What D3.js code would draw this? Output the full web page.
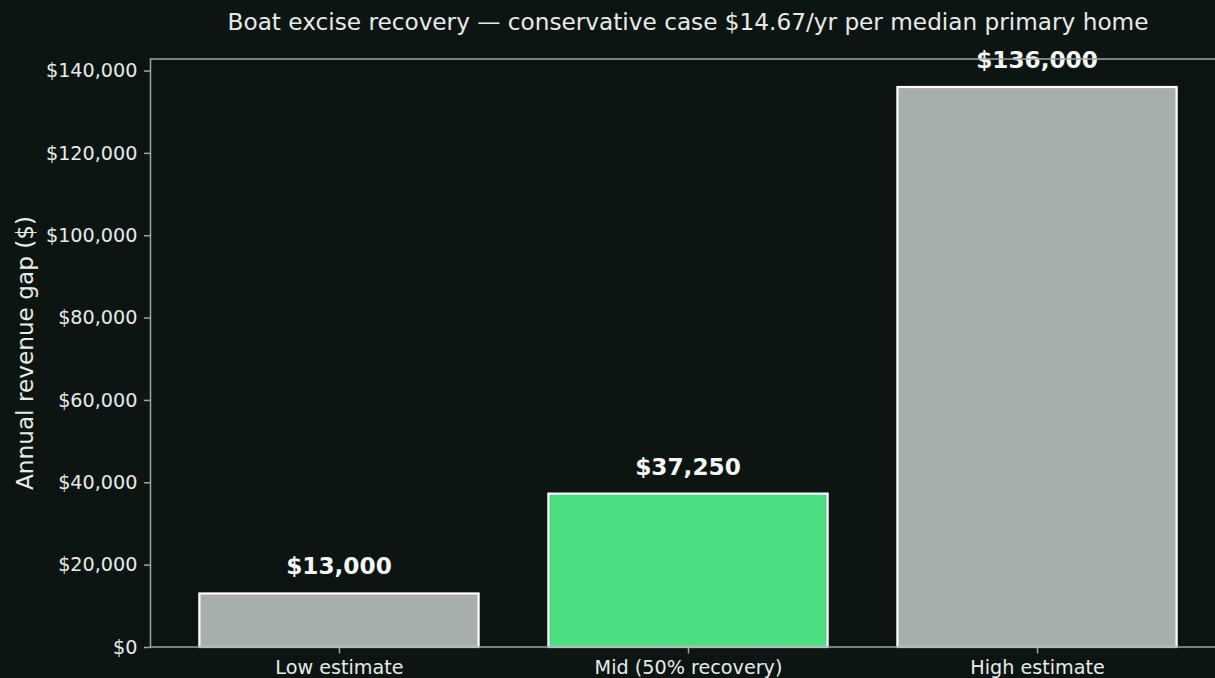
<!DOCTYPE html>
<html>
<head>
<meta charset="utf-8">
<script src="https://cdn.jsdelivr.net/npm/d3@7"></script>
<style>
  html, body { margin: 0; padding: 0; background: #0d1513; overflow: hidden; }
  svg { display: block; font-family: "DejaVu Sans", sans-serif; }
</style>
</head>
<body>
<svg id="chart" width="1215" height="678"></svg>
<script>
// Revenue gap scenarios
const categories = ["Low estimate", "Mid (50% recovery)", "High estimate"];
const values = [13000, 37250, 136000];
const barColors = ["#a7afab", "#4ade80", "#a7afab"];
const yTicks = [0, 20000, 40000, 60000, 80000, 100000, 120000, 140000];
const titleText = "Boat excise recovery \u2014 conservative case $14.67/yr per median primary home";
const yLabelText = "Annual revenue gap ($)";

const W = 1215, H = 678;
const plot = { left: 150.5, right: 1225.5, top: 59, bottom: 647 };

const svg = d3.select("#chart");
const textColor = "#e6ebe8";
const spineColor = "#9ea6a2";

// Category positions: index scale with padding like a standard bar layout
const x = d3.scaleLinear().domain([-0.54, 2.54]).range([plot.left, plot.right]);
const barW = x(0.8) - x(0);
const y = d3.scaleLinear().domain([0, d3.max(values) * 1.05]).range([plot.bottom, plot.top]);

const fmt = v => "$" + d3.format(",")(v);

// Bars
svg.append("g").selectAll("rect")
  .data(values)
  .join("rect")
  .attr("x", (d, i) => x(i) - barW / 2)
  .attr("y", d => y(d))
  .attr("width", barW)
  .attr("height", d => y(0) - y(d))
  .attr("fill", (d, i) => barColors[i])
  .attr("stroke", "#ffffff")
  .attr("stroke-width", 2.2);

// Value labels
svg.append("g").selectAll("text")
  .data(values)
  .join("text")
  .attr("x", (d, i) => x(i))
  .attr("y", d => y(d) - 19)
  .attr("text-anchor", "middle")
  .attr("fill", "#f4f6f5")
  .attr("font-weight", "bold")
  .attr("font-size", "23.2px")
  .text(d => fmt(d));

// Y axis
const yAxis = d3.axisLeft(y).tickValues(yTicks).tickFormat(fmt).tickSize(6.5).tickPadding(6.5);
const gy = svg.append("g").attr("transform", `translate(${plot.left},0)`).call(yAxis);
gy.select(".domain").remove();
gy.selectAll(".tick line").attr("stroke", spineColor).attr("stroke-width", 1.5);
gy.selectAll(".tick text").attr("fill", textColor).attr("font-size", "19.2px").attr("font-family", "DejaVu Sans");

// X axis
const xAxis = d3.axisBottom(x).tickValues(d3.range(categories.length))
  .tickFormat(i => categories[i]).tickSize(6.5).tickPadding(6.5);
const gx = svg.append("g").attr("transform", `translate(0,${plot.bottom})`).call(xAxis);
gx.select(".domain").remove();
gx.selectAll(".tick line").attr("stroke", spineColor).attr("stroke-width", 1.5);
gx.selectAll(".tick text").attr("fill", textColor).attr("font-size", "19.2px").attr("font-family", "DejaVu Sans");

// Frame
svg.append("rect")
  .attr("x", plot.left).attr("y", plot.top)
  .attr("width", plot.right - plot.left).attr("height", plot.bottom - plot.top)
  .attr("fill", "none").attr("stroke", spineColor).attr("stroke-width", 1.5);

// Title
svg.append("text")
  .attr("x", (plot.left + plot.right) / 2)
  .attr("y", 30)
  .attr("text-anchor", "middle")
  .attr("fill", textColor)
  .attr("font-size", "23.2px")
  .text(titleText);

// Y label
svg.append("text")
  .attr("transform", `translate(33, ${(plot.top + plot.bottom) / 2}) rotate(-90)`)
  .attr("text-anchor", "middle")
  .attr("fill", textColor)
  .attr("font-size", "23.2px")
  .text(yLabelText);
</script>
</body>
</html>
